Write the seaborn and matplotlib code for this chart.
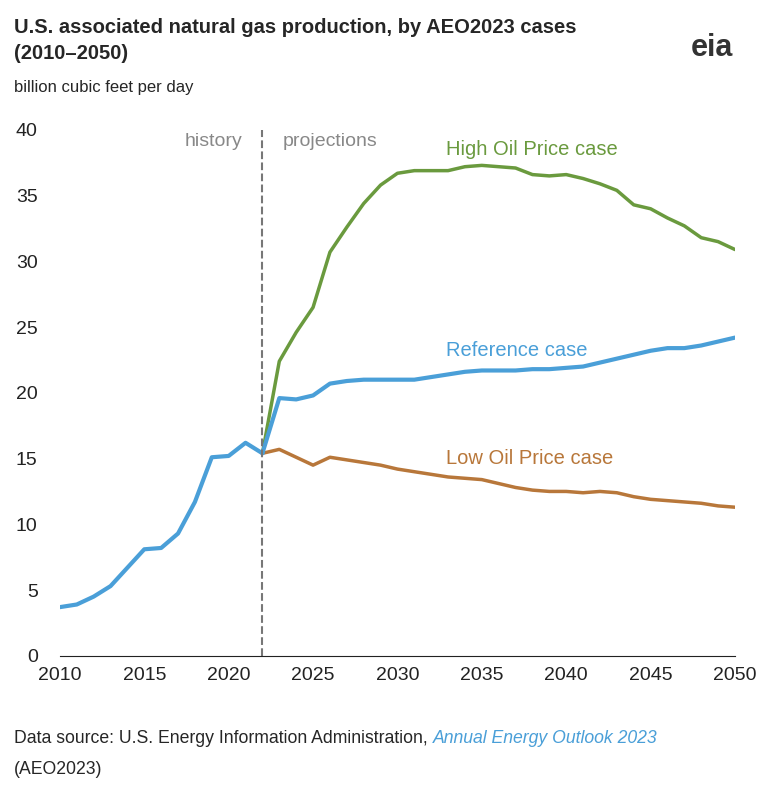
import matplotlib
matplotlib.use("Agg")
import matplotlib.pyplot as plt
import seaborn as sns
import pandas as pd

years_hist = list(range(2010, 2023))
hist = [3.7, 3.9, 4.5, 5.3, 6.7, 8.1, 8.2, 9.3, 11.7, 15.1, 15.2, 16.2, 15.4]
years_proj = list(range(2022, 2051))
reference = [15.4, 19.6, 19.5, 19.8, 20.7, 20.9, 21.0, 21.0, 21.0, 21.0, 21.2, 21.4, 21.6, 21.7, 21.7,
             21.7, 21.8, 21.8, 21.9, 22.0, 22.3, 22.6, 22.9, 23.2, 23.4, 23.4, 23.6, 23.9, 24.2]
high = [15.4, 22.4, 24.6, 26.5, 30.7, 32.6, 34.4, 35.8, 36.7, 36.9, 36.9, 36.9, 37.2, 37.3, 37.2,
        37.1, 36.6, 36.5, 36.6, 36.3, 35.9, 35.4, 34.3, 34.0, 33.3, 32.7, 31.8, 31.5, 30.9]
low = [15.4, 15.7, 15.1, 14.5, 15.1, 14.9, 14.7, 14.5, 14.2, 14.0, 13.8, 13.6, 13.5, 13.4, 13.1,
       12.8, 12.6, 12.5, 12.5, 12.4, 12.5, 12.4, 12.1, 11.9, 11.8, 11.7, 11.6, 11.4, 11.3]

sns.set_style("white")
plt.rcParams['font.family'] = ['Liberation Sans', 'DejaVu Sans']

fig = plt.figure(figsize=(7.68, 7.92), dpi=100)
ax = fig.add_axes([0.078, 0.172, 0.879, 0.664])

GREEN, BLUE, ORANGE = "#6a9a3e", "#4a9fd8", "#b8773a"
sns.lineplot(x=years_proj, y=high, ax=ax, color=GREEN, lw=2.5)
sns.lineplot(x=years_proj, y=low, ax=ax, color=ORANGE, lw=2.5)
sns.lineplot(x=years_proj, y=reference, ax=ax, color=BLUE, lw=3)
sns.lineplot(x=years_hist, y=hist, ax=ax, color=BLUE, lw=3)

ax.axvline(2022, color="#777777", ls="--", lw=1.5)
ax.text(2020.8, 39.1, "history", ha="right", va="center", color="#888888", fontsize=14)
ax.text(2023.2, 39.1, "projections", ha="left", va="center", color="#888888", fontsize=14)
ax.text(2032.9, 38.5, "High Oil Price case", color=GREEN, fontsize=14.5, va="center")
ax.text(2032.9, 23.2, "Reference case", color=BLUE, fontsize=14.5, va="center")
ax.text(2032.9, 15.0, "Low Oil Price case", color=ORANGE, fontsize=14.5, va="center")

ax.set_xlim(2010, 2050)
ax.set_ylim(0, 40)
ax.set_xticks(range(2010, 2051, 5))
ax.set_yticks(range(0, 41, 5))
ax.tick_params(labelsize=14, colors="#222222", length=0)
ax.tick_params(axis='x', pad=8)
ax.tick_params(axis='y', pad=16)
for s in ["top", "right", "left"]:
    ax.spines[s].set_visible(False)
ax.spines["bottom"].set_color("#222222")
ax.set_xlabel("")
ax.set_ylabel("")

fig.text(0.018, 0.965, "U.S. associated natural gas production, by AEO2023 cases", fontsize=14.5,
         fontweight="bold", va="center")
fig.text(0.018, 0.932, "(2010\u20132050)", fontsize=14.5, fontweight="bold", va="center")
fig.text(0.018, 0.889, "billion cubic feet per day", fontsize=12, va="center")
fig.text(0.955, 0.94, "eia", fontsize=22, fontweight="bold", color="#333333", ha="right", va="center")
fig.text(0.018, 0.067, "Data source: U.S. Energy Information Administration,", fontsize=12.7, va="center")
fig.text(0.564, 0.067, "Annual Energy Outlook 2023", fontsize=12.7, va="center", style="italic", color=BLUE)
fig.text(0.018, 0.028, "(AEO2023)", fontsize=12.7, va="center")

fig.savefig("out.png", dpi=100)
